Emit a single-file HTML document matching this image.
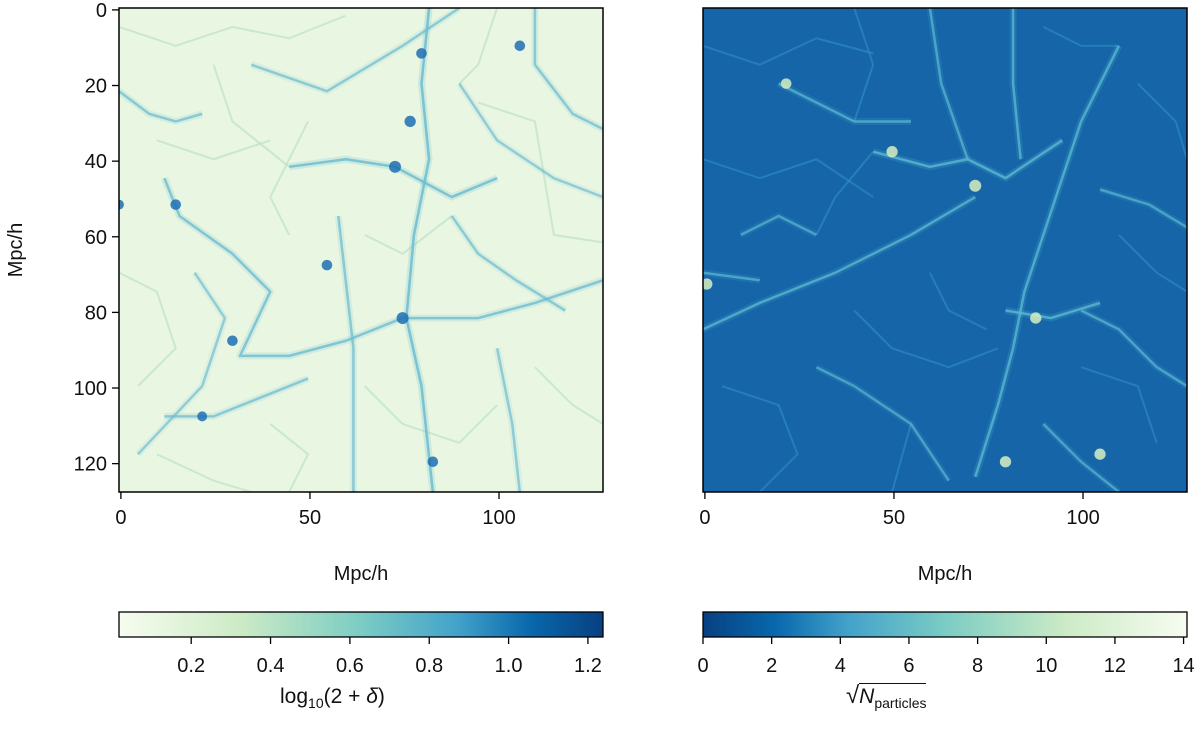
<!DOCTYPE html>
<html><head><meta charset="utf-8">
<style>
html,body{margin:0;background:#fff;width:1200px;height:744px;overflow:hidden;position:relative;}
svg text{font-family:"Liberation Sans","DejaVu Sans",sans-serif;fill:#111;}
</style></head>
<body>
<svg id="fig" width="1200" height="744" viewBox="0 0 1200 744" xmlns="http://www.w3.org/2000/svg" style="position:absolute;left:0;top:0">
<defs>
<linearGradient id="gnbu" x1="0" x2="1" y1="0" y2="0">
<stop offset="0" stop-color="#f7fcf0"/><stop offset="0.25" stop-color="#ccebc5"/>
<stop offset="0.5" stop-color="#7bccc4"/><stop offset="0.7" stop-color="#43a2ca"/>
<stop offset="0.85" stop-color="#0868ac"/><stop offset="1" stop-color="#084081"/>
</linearGradient>
<linearGradient id="gnbur" x1="0" x2="1" y1="0" y2="0">
<stop offset="0" stop-color="#084081"/><stop offset="0.15" stop-color="#0868ac"/>
<stop offset="0.3" stop-color="#43a2ca"/><stop offset="0.5" stop-color="#7bccc4"/>
<stop offset="0.75" stop-color="#ccebc5"/><stop offset="1" stop-color="#f7fcf0"/>
</linearGradient>
<clipPath id="clipL"><rect x="119" y="8" width="484" height="484"/></clipPath>
<clipPath id="clipR"><rect x="703" y="8" width="484" height="484"/></clipPath>
</defs>
<g id="left"></g>
<g id="right"></g>
<g id="axes"></g>
</svg>
<script>
const xTicks=[0,50,100];
const yTicks=[0,20,40,60,80,100,120];
const cbLeftTicks=[0.2,0.4,0.6,0.8,1.0,1.2];
const cbLeftRange=[0.018,1.238];
const cbRightTicks=[0,2,4,6,8,10,12,14];
const cbRightRange=[0,14.1];
const boxSize=128;
// filaments in Mpc/h: [x,y] nodes, strength 0..1
const leftFilaments=[
 [[[82,0],[80,20],[82,40],[78,60],[76,82],[80,100],[83,128]],0.75],
 [[[45,42],[60,40],[73,42],[88,50],[100,45]],0.7],
 [[[0,22],[8,28],[15,30],[22,28]],0.5],
 [[[12,45],[16,55],[30,65],[40,75],[32,92],[45,92],[60,88],[75,82],[95,82],[110,78],[128,72]],0.6],
 [[[58,55],[62,90],[62,128]],0.5],
 [[[35,15],[55,22],[75,10],[90,0]],0.45],
 [[[88,55],[95,65],[105,72],[118,80]],0.45],
 [[[12,108],[25,108],[40,102],[50,98]],0.5],
 [[[100,90],[104,110],[106,128]],0.4],
 [[[110,0],[110,15],[120,28],[128,32]],0.5],
 [[[20,70],[28,82],[22,100],[5,118]],0.35],
 [[[90,20],[100,35],[115,45],[128,50]],0.35]
];
const leftWeb=[
 [[0,5],[15,10],[30,5],[45,8],[60,2]],[[10,35],[25,40],[40,35]],[[0,70],[10,75],[15,90],[5,100]],
 [[40,110],[50,118],[45,128]],[[65,100],[75,110],[90,115],[100,105]],[[110,95],[120,105],[128,110]],
 [[95,25],[110,30],[115,60],[128,62]],[[25,15],[30,30],[45,42]],[[65,60],[75,65],[88,55]],
 [[100,0],[95,15],[90,20]],[[10,118],[25,125],[35,128]],[[45,60],[40,50],[50,30]]
];
const leftKnots=[[73,42,1.0],[75,82,1.0],[55,68,0.8],[15,52,0.8],[30,88,0.8],[22,108,0.7],[80,12,0.8],[106,10,0.8],[83,120,0.8],[77,30,0.9],[0,52,0.7]];
const rightFilaments=[
 [[[45,38],[60,42],[70,40],[80,45],[95,35]],0.7],
 [[[72,50],[55,60],[35,70],[15,78],[0,85]],0.6],
 [[[110,10],[100,30],[95,45],[90,60],[85,75],[82,90],[78,105],[72,124]],0.65],
 [[[60,0],[63,20],[70,40]],0.5],
 [[[100,80],[110,85],[120,95],[128,100]],0.5],
 [[[20,20],[40,30],[55,30]],0.55],
 [[[10,60],[20,55],[30,60]],0.45],
 [[[80,80],[92,82],[105,78]],0.7],
 [[[30,95],[40,100],[55,110],[65,125]],0.45],
 [[[82,0],[82,20],[84,40]],0.6],
 [[[0,70],[15,72]],0.5],
 [[[90,110],[100,120],[110,128]],0.45],
 [[[105,48],[118,52],[128,58]],0.45]
];
const rightWeb=[
 [[0,10],[15,15],[30,8],[45,12]],[[0,40],[15,45],[30,40],[45,50]],[[110,60],[120,70],[128,75]],
 [[40,80],[50,90],[65,95],[78,90]],[[5,100],[20,105],[25,118],[15,128]],[[100,95],[115,100],[120,115]],
 [[30,60],[35,50],[45,38]],[[115,20],[125,30],[128,40]],[[60,70],[65,80],[75,85]],[[55,110],[50,128]],
 [[90,5],[100,10],[110,10]],[[40,0],[45,15],[40,30]]
];
const rightKnots=[[72,47,1.0],[50,38,0.9],[88,82,0.9],[80,120,0.9],[105,118,0.9],[1,73,0.9],[22,20,0.8]];

const L=119,R=703,T=8,S=484;
const NS='http://www.w3.org/2000/svg';
function mk(t,a,p){const e=document.createElementNS(NS,t);for(const k in a)e.setAttribute(k,a[k]);(p||document.getElementById('axes')).appendChild(e);return e;}
function sx(v,x0){return x0+v/boxSize*S;}
function sy(v){return T+v/boxSize*S;}
function pth(pts,x0){return pts.map((p,i)=>(i?'L':'M')+sx(p[0],x0)+' '+sy(p[1])).join(' ');}

function drawPanel(g,x0,bg,fil,web,knots,colWeb,colLo,colHi,clip){
 const bgR=mk('rect',{x:x0,y:T,width:S,height:S,fill:bg},g);
 
 
 const cg=mk('g',{'clip-path':'url(#'+clip+')'},g);
 web.forEach(w=>{
  const p=mk('path',{d:pth(w,x0),fill:'none',stroke:colWeb,'stroke-width':2,'stroke-opacity':0.6,'stroke-linejoin':'round'},cg);
  
  
 });
 fil.forEach(f=>{
  const d=pth(f[0],x0);
  const w=mk('path',{d:d,fill:'none',stroke:colLo,'stroke-width':7,'stroke-opacity':0.3*f[1],'stroke-linejoin':'round'},cg);
  
  
  const p=mk('path',{d:d,fill:'none',stroke:colLo,'stroke-width':2.5,'stroke-opacity':0.5+0.5*f[1],'stroke-linejoin':'round'},cg);
  
  
 });
 knots.forEach(k=>{
  const c=mk('circle',{cx:sx(k[0],x0),cy:sy(k[1]),r:2.5+3.5*k[2],fill:colHi,'fill-opacity':0.85},cg);
  
  
 });
 const fr=mk('rect',{x:x0,y:T,width:S,height:S,fill:'none',stroke:'#000','stroke-width':1.5},g);
 
 
}
drawPanel(document.getElementById('left'),L,'#e8f6e2',leftFilaments,leftWeb,leftKnots,'#b5e0c4','#6dbdd0','#1f6fb4','clipL');
drawPanel(document.getElementById('right'),R,'#1565a8',rightFilaments,rightWeb,rightKnots,'#3290c4','#58b6d0','#d6efc0','clipR');

[L,R].forEach(x0=>{
 xTicks.forEach(v=>{
  const x=sx(v+0.5,x0);
  const t=mk('line',{x1:x,x2:x,y1:T+S,y2:T+S+7,stroke:'#000','stroke-width':1.3});
  
  
  const l=mk('text',{x:x,y:T+S+32,'font-size':20,'text-anchor':'middle'});
  l.textContent=v;
  
  
 });
 const xl=mk('text',{x:x0+S/2,y:580,'font-size':20,'text-anchor':'middle'});
 xl.textContent='Mpc/h';
 
 
});
yTicks.forEach(v=>{
 const y=sy(v+0.5);
 const t=mk('line',{x1:L-7,x2:L,y1:y,y2:y,stroke:'#000','stroke-width':1.3});
 
 
 const l=mk('text',{x:L-12,y:y+7,'font-size':20,'text-anchor':'end'});
 l.textContent=v;
 
 
});
const yl=mk('text',{x:0,y:0,'font-size':20,'text-anchor':'middle',transform:'translate(22,250) rotate(-90)'});
yl.textContent='Mpc/h';



function colorbar(x0,grad,ticks,range,fmt){
 const y0=612,h=25;
 const r=mk('rect',{x:x0,y:y0,width:S,height:h,fill:'url(#'+grad+')',stroke:'#000','stroke-width':1.3});
 
 
 ticks.forEach(v=>{
  const x=x0+(v-range[0])/(range[1]-range[0])*S;
  const t=mk('line',{x1:x,x2:x,y1:y0+h,y2:y0+h+7,stroke:'#000','stroke-width':1.3});
  
  
  const l=mk('text',{x:x,y:y0+h+35,'font-size':20,'text-anchor':'middle'});
  l.textContent=fmt(v);
  
  
 });
}
colorbar(L,'gnbu',cbLeftTicks,cbLeftRange,v=>v.toFixed(1));
colorbar(R,'gnbur',cbRightTicks,cbRightRange,v=>String(v));
</script>
<div style="position:absolute;left:0;top:0;width:1200px;height:744px;pointer-events:none;font-family:'Liberation Sans','DejaVu Sans',sans-serif;">
 <div style="position:absolute;left:280px;top:685px;font-size:21px;line-height:24px;color:#111;white-space:nowrap;">log<sub style="font-size:14px">10</sub>(2 + <i>δ</i>)</div>
 <div style="position:absolute;left:846px;top:683px;font-size:21px;line-height:26px;color:#111;white-space:nowrap;"><span style="font-size:24px">√</span><span style="border-top:1.5px solid #111;padding-top:1px"><i>N</i><sub style="font-size:14px">particles</sub></span></div>
</div>
</body></html>
